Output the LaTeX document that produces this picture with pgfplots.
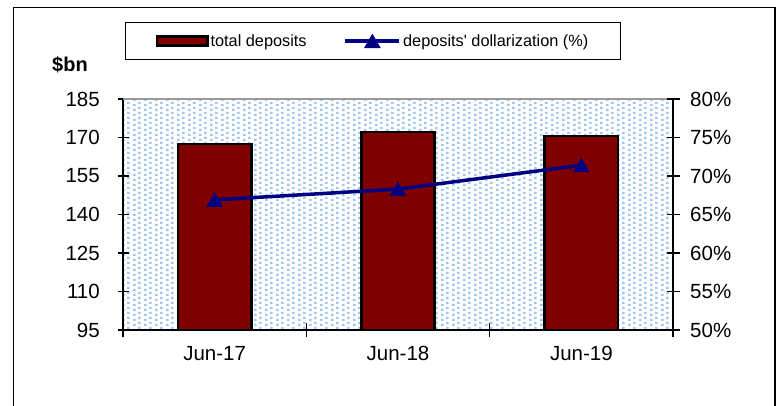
\documentclass[border=0pt]{standalone}
\usepackage{fontspec}
\setmainfont{Liberation Sans}[Ligatures=TeXOff]
\usepackage{pgfplots}
\pgfplotsset{compat=1.18}
\usetikzlibrary{patterns}
\definecolor{barred}{RGB}{128,0,0}
\definecolor{navyl}{RGB}{0,0,128}
\definecolor{dotblue}{RGB}{160,198,240}
\pgfdeclarepatternformonly{mydots}{\pgfqpoint{0pt}{0pt}}{\pgfqpoint{11.1pt}{5pt}}{\pgfqpoint{11.1pt}{5pt}}{%
  \pgfpathrectangle{\pgfqpoint{0pt}{0pt}}{\pgfqpoint{2.7pt}{2.5pt}}%
  \pgfpathrectangle{\pgfqpoint{5.55pt}{2.5pt}}{\pgfqpoint{2.7pt}{2.5pt}}%
  \pgfusepath{fill}}
\pgfplotsset{
  barlegend/.style={legend image code/.code={\draw[##1] (1.3pt,-4.5pt) rectangle (51.7pt,4.5pt);}},
  linelegend/.style={legend image code/.code={\draw[mark repeat=2,mark phase=2,##1] plot coordinates {(0pt,0pt) (27pt,0pt) (54pt,0pt)};}},
}
\begin{document}
\begin{tikzpicture}
\path[use as bounding box, fill=white] (0,0) rectangle (778pt,406pt);
\draw[line width=1.5pt] (13.3pt,-5pt) -- (13.3pt,398.7pt) -- (775pt,398.7pt) -- (775pt,-5pt);
\begin{axis}[
  at={(123pt,76pt)}, anchor=south west,
  scale only axis, width=550pt, height=231pt,
  xmin=-0.5, xmax=2.5, ymin=95, ymax=185,
  axis x line*=bottom, axis y line*=left,
  axis line style={line width=2pt, black},
  axis background/.style={pattern=mydots, pattern color=dotblue},
  ytick={95,110,125,140,155,170,185},
  yticklabels={95,110,125,140,155,170,185},
  xtick={0,1,2}, xticklabels={Jun-17,Jun-18,Jun-19},
  minor xtick={-0.5,0.5,1.5,2.5},
  tick align=center,
  major tick length=11pt, minor tick length=14pt,
  tick style={line width=1.5pt, black},
  major x tick style={draw=none},
  ticklabel style={font=\fontsize{20.5}{24}\selectfont, inner sep=0pt},
  yticklabel style={anchor=east, xshift=-17.5pt},
  xticklabel style={anchor=north, yshift=-10.5pt},
  ylabel={\bfseries\$bn},
  every axis y label/.style={at={(rel axis cs:0,1)}, anchor=center, xshift=-53pt, yshift=34pt, font=\fontsize{20}{24}\selectfont},
  after end axis/.code={\draw[line width=1.5pt, black!40] (rel axis cs:0,1) -- (rel axis cs:1,1);},
]
\addplot[ybar, bar width=0.40, bar shift=0pt, fill=barred, draw=black, line width=2.7pt]
  coordinates {(0,167.5) (1,172.1) (2,170.6)};
\end{axis}
\begin{axis}[
  at={(123pt,76pt)}, anchor=south west,
  scale only axis, width=550pt, height=231pt,
  xmin=-0.5, xmax=2.5, ymin=50, ymax=80,
  axis x line=none, axis y line*=right,
  axis line style={line width=2pt, black},
  ytick={50,55,60,65,70,75,80},
  yticklabels={50\%,55\%,60\%,65\%,70\%,75\%,80\%},
  tick align=center, major tick length=13pt,
  tick style={line width=1.5pt, black},
  ticklabel style={font=\fontsize{20.5}{24}\selectfont, inner sep=0pt},
  yticklabel style={anchor=west, xshift=10.5pt},
  legend columns=2,
  legend cell align=left,
  legend style={at={(axis description cs:0.4545,1.251)}, anchor=center, draw=black, line width=1pt,
    inner xsep=30pt, inner ysep=12pt, font=\fontsize{16.3}{19}\selectfont,
    nodes={inner xsep=2pt, inner ysep=0pt},
    /tikz/every even column/.append style={column sep=35pt}},
]
\addlegendimage{fill=barred, draw=black, line width=2.6pt, barlegend}
\addlegendentry{total deposits}
\addplot[navyl, line width=3.5pt, mark=triangle*, mark size=8.8pt,
  mark options={solid, line width=0.8pt, yshift=-2.2pt}, linelegend]
  coordinates {(0,66.9) (1,68.3) (2,71.4)};
\addlegendentry{deposits' dollarization (\%)}
\end{axis}
\end{tikzpicture}
\end{document}
